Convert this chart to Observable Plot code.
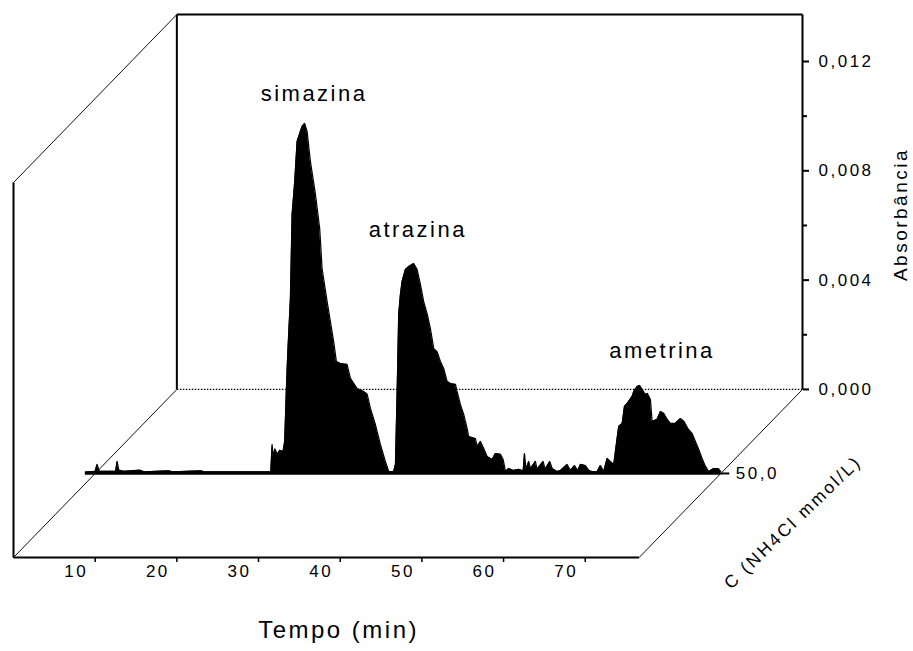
<!DOCTYPE html>
<html><head><meta charset="utf-8">
<script src="https://cdn.jsdelivr.net/npm/d3@7"></script>
<script src="https://cdn.jsdelivr.net/npm/@observablehq/plot@0.6"></script>
<style>
body{margin:0;background:#fff}
#chart svg text{letter-spacing:2.5px}
</style>
</head><body><div id="chart"></div>
<script>
// Chromatogram at C(NH4Cl) = 50,0 mmol/L : time (min) and absorbance
const time = [-1.2,0.0,0.23,0.5,2.5,2.68,2.9,3.5,5.5,6.0,9.0,9.5,13.0,13.3,21.5,21.66,21.8,22.0,22.3,22.6,23.0,23.2,
 23.41,23.57,23.9,24.11,24.43,24.72,25.33,25.65,25.95,26.35,26.97,27.49,27.78,28.4,28.8,29.2,29.53,30.02,30.84,31.25,
 32.07,32.88,33.3,33.7,34.31,34.92,35.53,35.94,36.55,36.76,36.97,37.16,37.37,37.58,37.98,38.39,39.0,39.42,39.82,40.22,
 40.64,41.04,41.45,41.86,42.27,42.67,43.09,43.49,44.11,44.31,44.72,45.12,45.54,45.73,46.55,46.76,47.17,47.57,47.99,
 48.6,49.0,49.62,49.95,50.24,50.63,51.24,51.86,52.4,52.56,52.75,53.08,53.3,53.9,54.1,54.84,55.1,55.65,55.95,56.56,
 56.97,57.78,58.19,58.68,59.08,59.41,60.02,60.43,60.84,61.46,61.86,62.26,62.68,63.08,63.49,63.9,64.1,64.52,64.8,
 65.13,65.74,65.94,66.35,66.67,66.97,67.37,67.6,67.98,68.19,68.8,69.21,69.6,70.03,70.43,71.0,71.66,72.1,72.55,73.09,
 73.49,73.9,74.31,74.72,75.12,75.73,76.3,76.6];
const absorbance = [0.00005,0.00008,0.00033,0.00008,0.00008,0.00044,0.00012,0.00008,0.00012,0.00006,0.00010,0.00006,0.00010,0.00006,0.00006,0.00106,0.00060,0.00090,0.00070,0.00085,0.00080,0.00117,
 0.00311,0.00435,0.00640,0.00948,0.01068,0.01215,0.01270,0.01281,0.01251,0.01142,0.01021,0.00896,0.00750,0.00629,0.00556,0.00483,0.00410,0.00402,0.00399,0.00348,
 0.00311,0.00300,0.00290,0.00238,0.00179,0.00106,0.00044,0.00007,0.00007,0.00033,0.00300,0.00582,0.00655,0.00703,0.00746,0.00757,0.00768,0.00746,0.00692,0.00629,
 0.00585,0.00531,0.00457,0.00446,0.00410,0.00384,0.00337,0.00329,0.00326,0.00300,0.00252,0.00216,0.00165,0.00135,0.00128,0.00099,0.00117,0.00091,0.00062,
 0.00051,0.00073,0.00070,0.00051,0.00007,0.00018,0.00011,0.00015,0.00010,0.00073,0.00015,0.00044,0.00018,0.00044,0.00015,0.00044,0.00015,0.00044,0.00018,0.00007,
 0.00011,0.00033,0.00011,0.00029,0.00011,0.00033,0.00029,0.00011,0.00007,0.00007,0.00029,0.00007,0.00055,0.00044,0.00033,0.00128,0.00172,0.00183,0.00245,
 0.00256,0.00282,0.00300,0.00318,0.00322,0.00307,0.00289,0.00293,0.00271,0.00190,0.00198,0.00227,0.00220,0.00198,0.00183,0.00183,0.00201,0.00190,0.00165,0.00146,
 0.00117,0.00088,0.00055,0.00026,0.00007,0.00018,0.00018,0.00007];

const peakNames = ["simazina", "atrazina", "ametrina"];
const peakLabelTime = [26.8, 39.5, 69.4];
const peakLabelAbs = [0.0139, 0.0089, 0.0045];

const timeTicks = [10, 20, 30, 40, 50, 60, 70];
const absTicks = [0, 0.004, 0.008, 0.012];
const absMinorTicks = [0.002, 0.006, 0.010];
const concLevels = [50.0];
const concDepth = [0.5];   // relative depth of each series in the 3D box

const xLabel = "Tempo (min)";
const yLabel = "Absorbância";
const zLabel = "C (NH4Cl mmol/L)";

// 3D box extents (data units) and oblique projection of depth
const T_MAX = 76.6, A_MAX = 0.01372;
const DEPTH_T = 20, DEPTH_A = 0.00615;
const PX = (t, z) => t + DEPTH_T * z;
const PY = (a, z) => a + DEPTH_A * z;
const comma = v => d3.format(".3f")(v).replace(".", ",");

const zS = concDepth[0];
const series = time.map((t, i) => ({X: PX(t, zS), Y0: PY(0, zS), Y: PY(absorbance[i], zS)}));

// box edges: [t1, a1, z1, t2, a2, z2]
const seg = e => ({x1: PX(e[0], e[2]), y1: PY(e[1], e[2]), x2: PX(e[3], e[5]), y2: PY(e[4], e[5])});
const frameEdges = [
  [0, 0, 0, T_MAX, 0, 0],
  [0, 0, 0, 0, A_MAX, 0],
  [0, 0, 1, 0, A_MAX, 1],
  [0, A_MAX, 1, T_MAX, A_MAX, 1],
  [T_MAX, 0, 1, T_MAX, A_MAX, 1]
].map(seg);
const depthEdges = [
  [0, A_MAX, 0, 0, A_MAX, 1],
  [0, 0, 0, 0, 0, 1],
  [T_MAX, 0, 0, T_MAX, 0, 1]
].map(seg);
const backZero = [[0, 0, 1, T_MAX, 0, 1]].map(seg);

const labels = peakNames.map((n, i) => ({n, X: PX(peakLabelTime[i], zS), Y: PY(peakLabelAbs[i], zS)}));
const conc = concLevels.map((c, i) => ({c, X: PX(T_MAX, concDepth[i]), Y: PY(0, concDepth[i])}));

const chart = Plot.plot({
  width: 913, height: 651,
  marginLeft: 13, marginRight: 111, marginTop: 14, marginBottom: 94,
  x: {domain: [0, T_MAX + DEPTH_T]},
  y: {domain: [0, A_MAX + DEPTH_A]},
  style: {fontFamily: "'Liberation Sans', Arial, sans-serif", color: "#000", background: "#fff"},
  marks: [
    Plot.link(backZero, {x1: "x1", y1: "y1", x2: "x2", y2: "y2", stroke: "#000", strokeWidth: 1.2, strokeDasharray: "1.5,1.5"}),
    Plot.areaY(series, {x: "X", y1: "Y0", y2: "Y", fill: "#000"}),
    Plot.line(series, {x: "X", y: "Y", stroke: "#000", strokeWidth: 1.2}),
    Plot.ruleY(series.slice(0, 1), {y: "Y0", x1: "X", x2: () => series[series.length - 1].X, stroke: "#000", strokeWidth: 2.5}),
    Plot.link(frameEdges, {x1: "x1", y1: "y1", x2: "x2", y2: "y2", stroke: "#000", strokeWidth: 2}),
    Plot.link(depthEdges, {x1: "x1", y1: "y1", x2: "x2", y2: "y2", stroke: "#111", strokeWidth: 1}),
    Plot.axisX({ticks: timeTicks, tickSize: 5, tickFormat: () => "", label: null, strokeWidth: 1.5}),
    Plot.text(timeTicks, {x: d => d, frameAnchor: "bottom", dy: 19, dx: -19, text: d => String(d), fontSize: 17}),
    Plot.axisY({anchor: "right", ticks: absTicks.map(a => PY(a, 1)), tickFormat: v => comma(v - DEPTH_A), tickSize: 6, tickPadding: 10, fontSize: 17, label: null, strokeWidth: 2}),
    Plot.axisY({anchor: "right", ticks: absMinorTicks.map(a => PY(a, 1)), tickFormat: () => "", tickSize: 4, label: null, strokeWidth: 2}),
    Plot.ruleY(conc, {y: "Y", x1: "X", x2: d => d.X + 1.1, stroke: "#000", strokeWidth: 2}),
    Plot.text(conc, {x: "X", y: "Y", text: d => d3.format(".1f")(d.c).replace(".", ","), dx: 15, textAnchor: "start", fontSize: 17}),
    Plot.text(conc, {x: "X", y: "Y", text: () => zLabel, dx: 72, dy: 49, rotate: -44, fontSize: 17.5}),
    Plot.text(labels, {x: "X", y: "Y", text: "n", fontSize: 22}),
    Plot.text([xLabel], {x: 39.8, frameAnchor: "bottom", dy: 80, fontSize: 24}),
    Plot.text([yLabel], {x: T_MAX + DEPTH_T, y: PY(0.0064, 1), dx: 98, rotate: -90, fontSize: 19})
  ]
});
document.getElementById("chart").appendChild(chart);
</script>
</body></html>
